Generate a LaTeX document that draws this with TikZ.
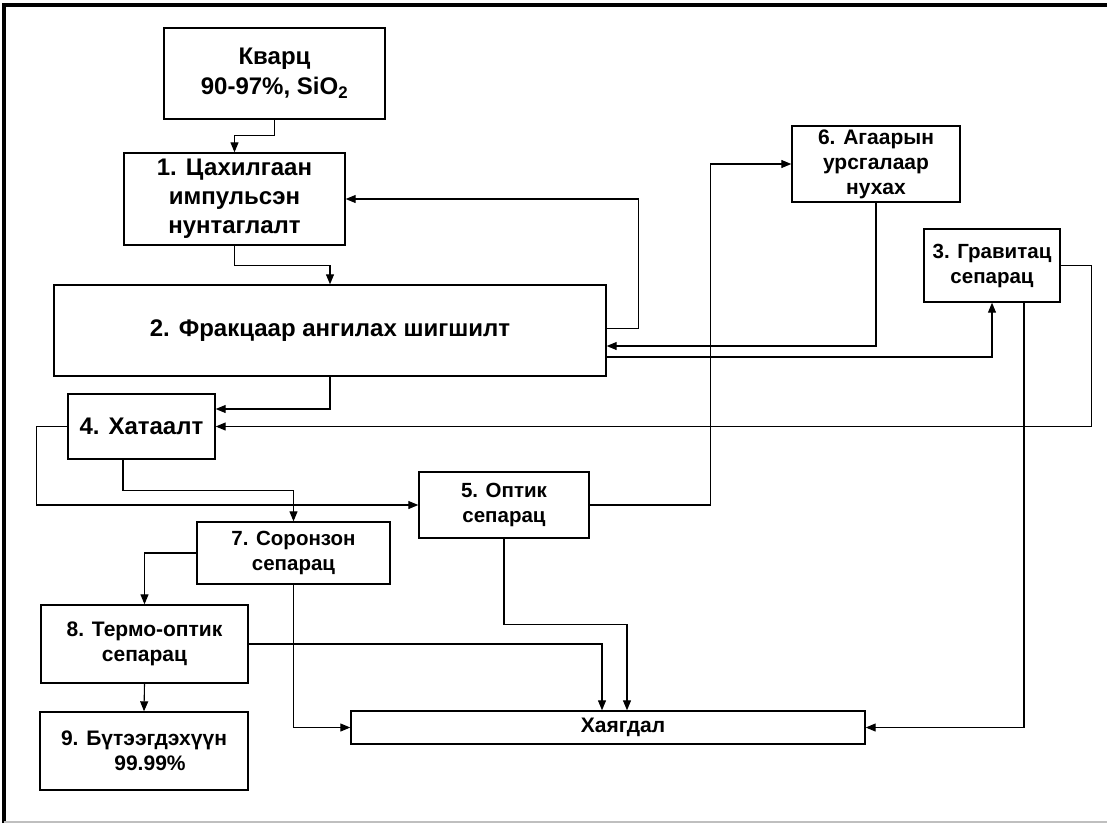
\documentclass[tikz,border=0pt]{standalone}
\usepackage{fontspec}
\setmainfont{Liberation Sans}
\usetikzlibrary{arrows.meta, calc}

\begin{document}
\begin{tikzpicture}[
  x=1pt, y=-1pt,
  font=\fontsize{24}{29}\selectfont\bfseries,
  stage/.style={rectangle, draw, line width=1.4pt, inner sep=0pt,
                align=center},
  mid/.style={font=\fontsize{20.5}{25}\selectfont\bfseries},
  small/.style={font=\fontsize{21}{25}\selectfont\bfseries},
  link/.style={-{Triangle[length=10pt, width=8pt]}, line width=1.1pt},
]
\useasboundingbox (0,0) rectangle (1107,823);

%% ── Frame ────────────────────────────────────────────────────────────────────
\draw[line width=4pt] (4,823) -- (4,5) -- (1107,5);
\draw[black!25, line width=1.5pt] (4,822) -- (1107,822);

%% ── Stages ───────────────────────────────────────────────────────────────────
%  Boxes are placed at their centres, sizes taken from the flow sheet.
\node[stage, minimum width=221pt, minimum height=91pt] (quartz) at (274.5,73.5)
    {Кварц\\[1pt]90-97\%, SiO\textsubscript{2}};
\node[stage, minimum width=221pt, minimum height=92pt] (crush)  at (234.5,199)
    {1. Цахилгаан\\импульсэн\\нунтаглалт};
\node[stage, minimum width=552pt, minimum height=91pt] (sieve)  at (330,330.5)
    {2. Фракцаар ангилах шигшилт};
\node[stage, small, minimum width=168pt, minimum height=76pt] (air) at (876,164)
    {6. Агаарын\\урсгалаар\\нухах};
\node[stage, mid, minimum width=136pt, minimum height=73pt] (grav) at (992,265.5)
    {3. Гравитац\\сепарац};
\node[stage, minimum width=147pt, minimum height=65pt] (dry)    at (141.5,426.5)
    {4. Хатаалт};
\node[stage, mid, minimum width=170pt, minimum height=66pt] (optic) at (504,505)
    {5. Оптик\\сепарац};
\node[stage, mid, minimum width=193pt, minimum height=62pt] (magnet) at (293.5,553)
    {7. Соронзон\\сепарац};
\node[stage, small, minimum width=207pt, minimum height=78pt] (thermo) at (144.5,644)
    {8. Термо-оптик\\сепарац};
\node[stage, small, minimum width=208pt, minimum height=78pt] (product) at (144,751)
    {9. Бүтээгдэхүүн\\\hspace*{12pt}99.99\%};
\node[stage, small, minimum width=514pt, minimum height=33pt] (waste) at (608,727.5)
    {\hspace*{30pt}Хаягдал};

%% ── Main line ────────────────────────────────────────────────────────────────
\draw[link] (quartz.south) -- ++(0,16) -| (crush.north);
\draw[link] (crush.south) -- ++(0,20) -| (sieve.north);
\draw[link] (sieve.south) |- ([yshift=17.5pt]dry.east);
\draw[link] ([xshift=-18.5pt]dry.south) -- ++(0,31) -| (magnet.north);
\draw[link] (magnet.west) -| (thermo.north);
\draw[link] (thermo.south) -- (product.north);

%% ── Returns and side streams ─────────────────────────────────────────────────
\draw[link] ([yshift=2pt]sieve.east) -- ++(32,0) |- (crush.east);
\draw[link] (air.south) |- ([yshift=-15.5pt]sieve.east);
\draw[link] ([yshift=-26.5pt]sieve.east) -| (grav.south);
\draw[link] (grav.east) -- ++(31,0) |- (dry.east);
\draw[link] (dry.west) -- ++(-31,0) |- (optic.west);
\draw[link] (optic.east) -- ++(121,0) |- (air.west);

%% ── Tailings ─────────────────────────────────────────────────────────────────
\draw[link] (optic.south) -- ++(0,86) -| ([xshift=19pt]waste.north);
\draw[link] (thermo.east) -| ([xshift=-6pt]waste.north);
\draw[link] (magnet.south) |- (waste.west);
\draw[link] ([xshift=32pt]grav.south) |- (waste.east);

\end{tikzpicture}
\end{document}
